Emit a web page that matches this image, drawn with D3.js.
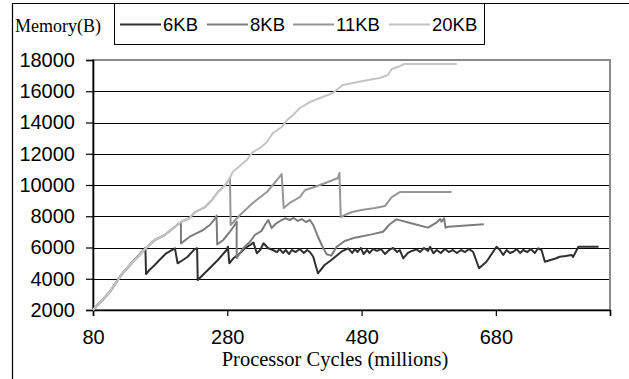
<!DOCTYPE html>
<html>
<head>
<meta charset="utf-8">
<script src="https://cdn.jsdelivr.net/npm/d3@7"></script>
<style>
  body { margin: 0; background: #fff; }
  svg { display: block; }
</style>
</head>
<body>
<svg id="chart" width="629" height="379"></svg>
<script>
// series names and colours
var seriesNames = ["6KB", "8KB", "11KB", "20KB"];
var seriesColors = ["#303030", "#7c7c7c", "#969696", "#c4c4c4"];

// tick values
var xTicks = [80, 280, 480, 680];
var yTicks = [2000, 4000, 6000, 8000, 10000, 12000, 14000, 16000, 18000];

// [processor cycles (millions), memory (B)]
var mem6KB = [
  [80, 2000], [105, 3150], [122, 4240], [135, 4880], [158, 5970],
  [159, 4300], [164, 4560], [172, 4880], [179, 5200], [189, 5630], [202, 5950],
  [206, 4990], [214, 5200], [221, 5410], [231, 5880], [235, 5950],
  [236, 3920], [251, 4560], [266, 5200], [279, 5840], [281, 6050],
  [283, 4990], [289, 5310], [299, 5630], [306, 5950], [314, 6160], [319, 6310],
  [324, 5630], [329, 5840], [334, 6270], [341, 5950], [348, 5840],
  [354, 5710], [358, 5900], [363, 5650], [367, 5840], [372, 5580], [376, 5840],
  [382, 5710], [388, 5900], [394, 5650], [399, 5840], [403, 5710], [408, 5410],
  [415, 4350], [425, 4880], [435, 5200], [450, 5730], [460, 5950],
  [466, 5650], [470, 5900], [474, 5710], [479, 5970], [483, 5580], [488, 5840],
  [492, 5650], [497, 5900], [503, 5780], [509, 5900], [515, 5580], [521, 5840],
  [527, 5970], [533, 5710], [537, 5840], [542, 5310], [549, 5650], [555, 5780],
  [562, 5880], [567, 5710], [573, 5970], [579, 5780], [582, 6050], [587, 5630],
  [592, 5840], [598, 5650], [604, 5900], [610, 5710], [616, 5840], [622, 5650],
  [628, 5840], [634, 5710], [640, 5900], [646, 5730],
  [655, 4670], [666, 5090], [681, 6050],
  [686, 5840], [691, 5520], [696, 5840], [701, 5650], [706, 5730], [711, 5900],
  [716, 5650], [721, 5840], [727, 5710], [732, 5900], [738, 5650], [743, 5950],
  [748, 5840], [753, 5090], [770, 5310], [775, 5410], [784, 5460], [793, 5520],
  [795, 5390], [803, 6050], [833, 6050]
];

var mem8KB = [
  [80, 2000], [105, 3150], [122, 4240], [135, 4880], [159, 5970], [172, 6480],
  [187, 6800], [198, 7180], [211, 7630],
  [211, 6260], [224, 6690], [234, 6910], [244, 7120], [254, 7440], [262, 7870], [264, 8040],
  [265, 6200], [274, 6480], [284, 7010], [291, 7440], [294, 7650],
  [294, 5310], [304, 5970], [314, 6370], [321, 6800], [331, 7060], [336, 7440],
  [341, 7760], [346, 7250], [353, 7550], [361, 7760], [366, 7870], [373, 7760],
  [379, 7890], [385, 7700], [391, 7820], [397, 7630], [403, 7760], [408, 7440],
  [415, 6690], [423, 5950], [428, 5570], [435, 5480], [443, 6050], [455, 6420],
  [470, 6630], [495, 6840], [512, 7010], [522, 7490], [532, 7800], [554, 7550],
  [579, 7270], [592, 7610], [597, 7820], [599, 7650], [603, 7870], [605, 7270],
  [609, 7330], [662, 7490]
];

var mem11KB = [
  [80, 2000], [105, 3150], [122, 4240], [135, 4880], [159, 5970], [172, 6480],
  [187, 6800], [198, 7180], [211, 7630], [224, 7890], [232, 8270], [247, 8590],
  [257, 9040], [266, 9550], [277, 10000], [284, 10450],
  [285, 7440], [299, 8080], [318, 8850], [339, 9550], [354, 10320], [361, 10700],
  [364, 8530], [373, 8850], [388, 9230], [396, 9680], [410, 9870], [430, 10190],
  [445, 10450], [447, 10770],
  [449, 7950], [455, 8080], [466, 8270], [480, 8400], [500, 8530], [515, 8660],
  [525, 9230], [537, 9550], [614, 9550]
];

var mem20KB = [
  [80, 2000], [105, 3150], [122, 4240], [135, 4880], [159, 5970], [172, 6480],
  [187, 6800], [198, 7180], [211, 7630], [224, 7890], [232, 8270], [247, 8590],
  [257, 9040], [266, 9550], [277, 10000], [284, 10450], [288, 10830], [309, 11600],
  [318, 12110], [329, 12370], [339, 12750], [348, 13330], [361, 13710], [369, 14160],
  [378, 14480], [388, 14930], [403, 15310], [418, 15570], [437, 15890], [452, 16400],
  [467, 16530], [482, 16660], [507, 16850], [519, 17040], [525, 17420], [534, 17550],
  [543, 17740], [622, 17740]
];

var allSeries = [mem6KB, mem8KB, mem11KB, mem20KB];

var svg = d3.select("#chart");

var x = d3.scaleLinear().domain([80, 850]).range([93, 610]);
var y = d3.scaleLinear().domain([2000, 18000]).range([310, 60]);

// outer frame (partly cut off by the picture)
svg.append("path")
  .attr("d", "M12.5,380 V3.5 H640")
  .attr("fill", "none")
  .attr("stroke", "#000")
  .attr("stroke-width", 1.2);

// gridlines
svg.append("g")
  .selectAll("line")
  .data(yTicks.filter(function (d) { return d > 2000 && d < 18000; }))
  .enter().append("line")
  .attr("x1", x(80)).attr("x2", x(850))
  .attr("y1", function (d) { return Math.round(y(d)) + 0.5; })
  .attr("y2", function (d) { return Math.round(y(d)) + 0.5; })
  .attr("stroke", "#000")
  .attr("stroke-width", 1);

// plot border
svg.append("rect")
  .attr("x", x(80)).attr("y", y(18000))
  .attr("width", x(850) - x(80)).attr("height", y(2000) - y(18000))
  .attr("fill", "none")
  .attr("stroke", "#8a8a8a")
  .attr("stroke-width", 2);

// axes
var yAxis = d3.axisLeft(y).tickValues(yTicks).tickSize(7).tickPadding(11).tickFormat(d3.format("d"));
var xAxis = d3.axisBottom(x).tickValues(xTicks).tickSize(6).tickPadding(14).tickFormat(d3.format("d"));

var gy = svg.append("g").attr("transform", "translate(" + x(80) + ",0)").call(yAxis);
var gx = svg.append("g").attr("transform", "translate(0," + y(2000) + ")").call(xAxis);

[gx, gy].forEach(function (g) {
  g.select(".domain").attr("stroke", "#000").attr("stroke-width", 1.6);
  g.selectAll(".tick line").attr("stroke", "#000").attr("stroke-width", 1.2);
  g.selectAll("text")
    .attr("fill", "#000")
    .style("font-family", "'Liberation Sans', Arial, sans-serif")
    .style("font-size", "20px");
});

// series lines
var line = d3.line()
  .x(function (d) { return x(d[0]); })
  .y(function (d) { return y(d[1]); });

svg.append("g")
  .selectAll("path")
  .data(allSeries)
  .enter().append("path")
  .attr("d", line)
  .attr("fill", "none")
  .attr("stroke", function (d, i) { return seriesColors[i]; })
  .attr("stroke-width", 2)
  .attr("stroke-linejoin", "round");

// axis titles
svg.append("text")
  .attr("x", 15).attr("y", 32)
  .style("font-family", "'Liberation Serif', 'Times New Roman', serif")
  .style("font-size", "18px")
  .text("Memory(B)");

svg.append("text")
  .attr("x", 335).attr("y", 366)
  .attr("text-anchor", "middle")
  .style("font-family", "'Liberation Serif', 'Times New Roman', serif")
  .style("font-size", "20.5px")
  .text("Processor Cycles (millions)");

// legend
var legendX = [120, 207, 293, 389];
svg.append("rect")
  .attr("x", 114.5).attr("y", 3.5)
  .attr("width", 370).attr("height", 41)
  .attr("fill", "#fff")
  .attr("stroke", "#000")
  .attr("stroke-width", 1);

var leg = svg.append("g")
  .selectAll("g")
  .data(seriesNames)
  .enter().append("g")
  .attr("transform", function (d, i) { return "translate(" + legendX[i] + ",0)"; });

leg.append("line")
  .attr("x1", 0).attr("x2", 41)
  .attr("y1", 24.5).attr("y2", 24.5)
  .attr("stroke", function (d, i) { return seriesColors[i]; })
  .attr("stroke-width", 2);

leg.append("text")
  .attr("x", 43).attr("y", 31)
  .style("font-family", "'Liberation Sans', Arial, sans-serif")
  .style("font-size", "18.5px")
  .text(function (d) { return d; });
</script>
</body>
</html>
